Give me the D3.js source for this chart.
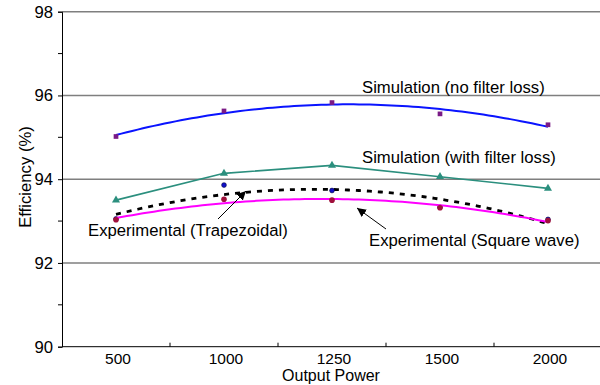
<!DOCTYPE html>
<html>
<head>
<meta charset="utf-8">
<script src="https://cdn.jsdelivr.net/npm/d3@7/dist/d3.min.js"></script>
<style>
  html, body { margin: 0; padding: 0; background: #fff; }
  svg { display: block; }
  text { font-family: "Liberation Sans", Arial, sans-serif; fill: #000; }
</style>
</head>
<body>
<svg id="chart" width="600" height="385"></svg>
<script>
// Output power levels (x categories)
const categories = ["500", "1000", "1250", "1500", "2000"];

// Efficiency (%) per series
const simNoFilter   = [95.02, 95.63, 95.83, 95.56, 95.30];
const simWithFilter = [93.50, 94.14, 94.33, 94.06, 93.78];
const expSquare     = [93.03, 93.52, 93.50, 93.32, 93.01];
const expTrapezoid  = [93.05, 93.86, 93.73, 93.33, 93.04];

// Y axis ticks
const yMajorTicks = [90, 92, 94, 96, 98];
const yMinorTicks = [91, 93, 95, 97];
const gridValues  = [92, 94, 96, 98];

const FONT = "16.7px";
const svg = d3.select("#chart");
const plot = { left: 62, right: 602, top: 11.7, bottom: 346.7 };

const x = d3.scaleBand().domain(categories).range([plot.left, plot.right]).padding(0);
const y = d3.scaleLinear().domain([90, 98]).range([plot.bottom, plot.top]);
const cx = c => x(c) + x.bandwidth() / 2;
// continuous position along the category index, for trend curves
const xi = d3.scaleLinear().domain([0, categories.length - 1])
  .range([cx(categories[0]), cx(categories[categories.length - 1])]);

// Least-squares quadratic trend over the category index
function quadFit(vals) {
  const xs = vals.map((_, i) => i);
  const mx = d3.mean(xs);
  const p1 = xs.map(v => v - mx);
  const m2 = d3.mean(p1.map(v => v * v));
  const p2 = p1.map(v => v * v - m2);
  const a0 = d3.mean(vals);
  const b1 = d3.sum(vals.map((v, i) => v * p1[i])) / d3.sum(p1.map(v => v * v));
  const b2 = d3.sum(vals.map((v, i) => v * p2[i])) / d3.sum(p2.map(v => v * v));
  return t => {
    const q1 = t - mx;
    return a0 + b1 * q1 + b2 * (q1 * q1 - m2);
  };
}
function trendPath(vals) {
  const f = quadFit(vals);
  const ts = d3.range(0, vals.length - 1 + 1e-9, 0.05);
  return d3.line().x(t => xi(t)).y(t => y(f(t)))(ts);
}

// Gridlines
svg.append("g").selectAll("line").data(gridValues).join("line")
  .attr("x1", plot.left).attr("x2", 600)
  .attr("y1", d => y(d)).attr("y2", d => y(d))
  .attr("stroke", "#7f7f7f").attr("stroke-width", 1.4);

// Y axis
const yAxis = svg.append("g").attr("transform", `translate(${plot.left},0)`)
  .call(d3.axisLeft(y).tickValues(yMajorTicks).tickSize(4).tickPadding(5).tickFormat(d3.format("d")));
yAxis.select(".domain").attr("stroke", "#000");
yAxis.selectAll("text").style("font-size", FONT).attr("font-family", "Liberation Sans, Arial, sans-serif");
svg.append("g").selectAll("line").data(yMinorTicks).join("line")
  .attr("x1", plot.left - 4).attr("x2", plot.left)
  .attr("y1", d => y(d)).attr("y2", d => y(d)).attr("stroke", "#000");

// X axis (tick marks between categories, pointing up)
svg.append("line").attr("x1", plot.left).attr("x2", 600)
  .attr("y1", plot.bottom).attr("y2", plot.bottom).attr("stroke", "#000");
svg.append("g").selectAll("line").data(categories.slice(1)).join("line")
  .attr("x1", d => x(d)).attr("x2", d => x(d))
  .attr("y1", plot.bottom).attr("y2", plot.bottom - 4).attr("stroke", "#000");
svg.append("g").selectAll("text").data(categories).join("text")
  .attr("x", d => cx(d) + 2).attr("y", 363.5)
  .attr("text-anchor", "middle").style("font-size", "15.5px").text(d => d);

// Axis titles
svg.append("text").attr("x", 331).attr("y", 381.3).attr("text-anchor", "middle")
  .style("font-size", "16px").text("Output Power");
svg.append("text").attr("transform", "translate(31,177) rotate(-90)")
  .attr("text-anchor", "middle").style("font-size", FONT).text("Efficiency (%)");

// Trapezoidal experiment: dashed trend + markers
svg.append("path").attr("d", trendPath(expTrapezoid)).attr("fill", "none")
  .attr("stroke", "#000").attr("stroke-width", 2.8).attr("stroke-dasharray", "5,6");
svg.append("g").selectAll("circle").data(expTrapezoid).join("circle")
  .attr("cx", (d, i) => cx(categories[i])).attr("cy", d => y(d)).attr("r", 2.4)
  .attr("fill", "#1010c8").attr("stroke", "#000040").attr("stroke-width", 0.6);

// Square-wave experiment: magenta trend + markers
svg.append("path").attr("d", trendPath(expSquare)).attr("fill", "none")
  .attr("stroke", "#ff00ff").attr("stroke-width", 2);
svg.append("g").selectAll("circle").data(expSquare).join("circle")
  .attr("cx", (d, i) => cx(categories[i])).attr("cy", d => y(d)).attr("r", 2.8)
  .attr("fill", "#a0103c");

// Simulation with filter loss: straight segments + triangles
svg.append("path").datum(simWithFilter)
  .attr("d", d3.line().x((d, i) => cx(categories[i])).y(d => y(d)))
  .attr("fill", "none").attr("stroke", "#2b8f7e").attr("stroke-width", 1.6);
svg.append("g").selectAll("path").data(simWithFilter).join("path")
  .attr("transform", (d, i) => `translate(${cx(categories[i])},${y(d)})`)
  .attr("d", d3.symbol(d3.symbolTriangle, 28)).attr("fill", "#2b8f7e");

// Simulation without filter loss: blue trend + markers
svg.append("path").attr("d", trendPath(simNoFilter)).attr("fill", "none")
  .attr("stroke", "#0a14ff").attr("stroke-width", 2);
svg.append("g").selectAll("path").data(simNoFilter).join("path")
  .attr("transform", (d, i) => `translate(${cx(categories[i])},${y(d)})`)
  .attr("d", d3.symbol(d3.symbolSquare, 22)).attr("fill", "#7a1a86");

// Annotations
const labels = [
  { t: "Simulation (no filter loss)", x: 362, y: 93 },
  { t: "Simulation (with filter loss)", x: 362, y: 163 },
  { t: "Experimental (Trapezoidal)", x: 88, y: 236 },
  { t: "Experimental (Square wave)", x: 369, y: 246 }
];
svg.append("g").selectAll("text").data(labels).join("text")
  .attr("x", d => d.x).attr("y", d => d.y).style("font-size", FONT).text(d => d.t);

// Arrows
const defs = svg.append("defs");
defs.append("marker").attr("id", "head").attr("viewBox", "0 0 10 10")
  .attr("refX", 10).attr("refY", 5).attr("markerWidth", 9).attr("markerHeight", 9)
  .attr("markerUnits", "userSpaceOnUse").attr("orient", "auto")
  .append("path").attr("d", "M0,0 L10,5 L0,10 z").attr("fill", "#000");
const arrows = [
  { x1: 218, y1: 219, x2: 246, y2: 191 },
  { x1: 386, y1: 229, x2: 357, y2: 208 }
];
svg.append("g").selectAll("line").data(arrows).join("line")
  .attr("x1", d => d.x1).attr("y1", d => d.y1).attr("x2", d => d.x2).attr("y2", d => d.y2)
  .attr("stroke", "#000").attr("stroke-width", 1).attr("marker-end", "url(#head)");
</script>
</body>
</html>
